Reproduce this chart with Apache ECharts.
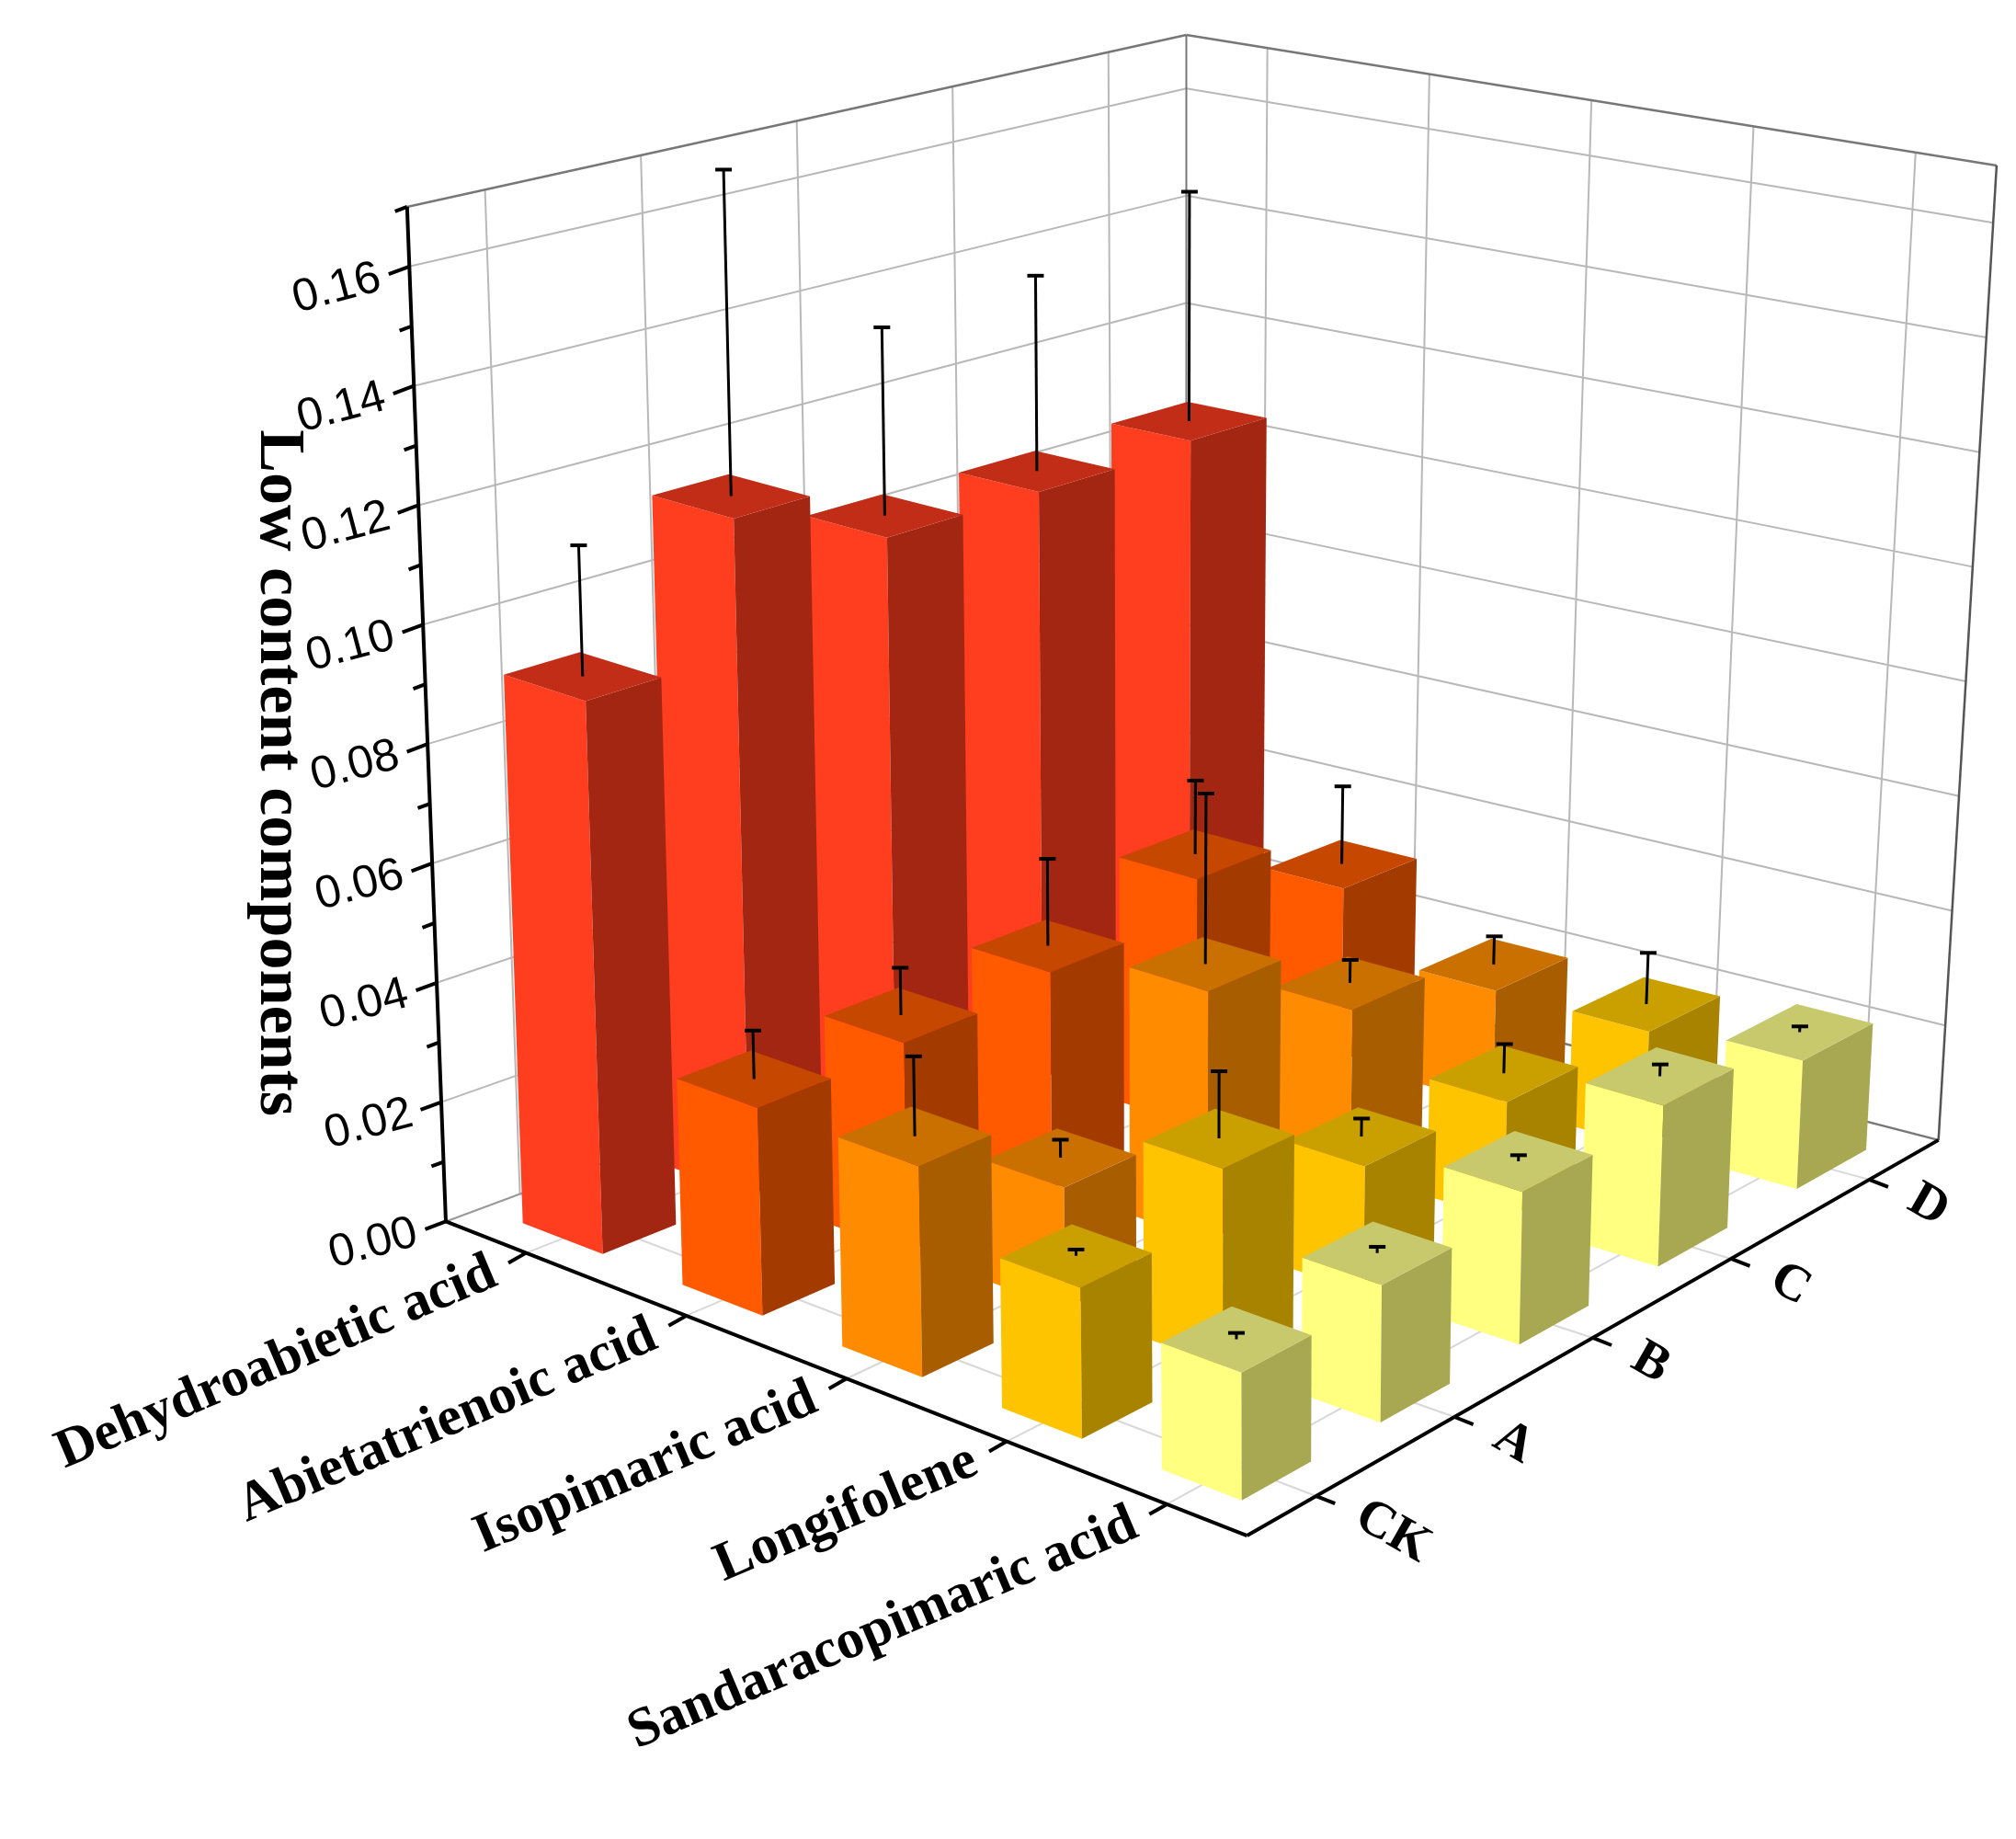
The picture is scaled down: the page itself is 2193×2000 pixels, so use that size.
<!DOCTYPE html>
<html lang="en">
<head>
<meta charset="UTF-8" />
<title>Low content components</title>
<style>
  html, body { margin: 0; padding: 0; background: #fff; }
  #app { width: 2193px; height: 2000px; }
</style>
</head>
<body>
<div id="app"></div>
<script src="https://cdn.jsdelivr.net/npm/echarts@6/dist/echarts.min.js"></script>
<script>
  var categories = ['Dehydroabietic acid', 'Abietatrienoic acid', 'Isopimaric acid', 'Longifolene', 'Sandaracopimaric acid']
  var treatments = ['CK', 'A', 'B', 'C', 'D']
  // one row per category, one value per treatment
  var dehydroabietic = [0.092, 0.115, 0.104, 0.104, 0.105]
  var abietatrienoic = [0.034, 0.035, 0.037, 0.043, 0.031]
  var isopimaric = [0.034, 0.020, 0.042, 0.028, 0.020]
  var longifolene = [0.024, 0.032, 0.021, 0.020, 0.020]
  var sandaracopimaric = [0.020, 0.022, 0.025, 0.027, 0.022]
  var dehydroabieticErr = [0.022, 0.056, 0.033, 0.035, 0.042]
  var abietatrienoicErr = [0.008, 0.008, 0.015, 0.013, 0.014]
  var isopimaricErr = [0.013, 0.003, 0.029, 0.004, 0.005]
  var longifoleneErr = [0.001, 0.011, 0.003, 0.005, 0.009]
  var sandaracopimaricErr = [0.001, 0.001, 0.001, 0.002, 0.001]
  var yTicks = [0, 0.02, 0.04, 0.06, 0.08, 0.1, 0.12, 0.14, 0.16]
  var yMax = 0.17

  var rows = [dehydroabietic, abietatrienoic, isopimaric, longifolene, sandaracopimaric]
  var errs = [dehydroabieticErr, abietatrienoicErr, isopimaricErr, longifoleneErr, sandaracopimaricErr]
  // face colours per row: [front, side, top]
  var colors = [
    ['#ff3d1f', '#a32613', '#c22d17'],
    ['#ff5a00', '#a33a00', '#c54700'],
    ['#ff8c00', '#a85e00', '#c97000'],
    ['#ffc400', '#a88300', '#c9a000'],
    ['#ffff80', '#a8a852', '#c8c86c']
  ]

  // projection frame (screen px): floor corners and top corners
  var s = 2193 / 1560
  function p(x, y) { return [x * s, y * s] }
  var F = p(965, 1188), L = p(345, 945), R = p(1500, 882), B = p(918, 732)
  var Ft = p(962, 340), Lt = p(315, 160), Rt = p(1545, 128), Bt = p(918, 27)

  function bil(a, b, c, d, u, v, k) {
    // a=F b=L c=R d=B
    return a[k] * (1 - u) * (1 - v) + b[k] * u * (1 - v) + c[k] * (1 - u) * v + d[k] * u * v
  }
  // u: 0 at front corner -> 1 at left end (category axis); v: 0 front -> 1 right end (treatment axis)
  function proj(u, v, val) {
    var t = val / yMax
    var x0 = bil(F, L, R, B, u, v, 0), y0 = bil(F, L, R, B, u, v, 1)
    var x1 = bil(Ft, Lt, Rt, Bt, u, v, 0), y1 = bil(Ft, Lt, Rt, Bt, u, v, 1)
    return [x0 + (x1 - x0) * t, y0 + (y1 - y0) * t]
  }
  function uOf(i) { return (4.5 - i) / 5 }
  function vOf(j) { return (j + 0.5) / 5 }

  var barData = []
  rows.forEach(function (row, i) {
    row.forEach(function (val, j) {
      barData.push([i, j, val, errs[i][j]])
    })
  })
  barData.sort(function (a, b) {
    return (uOf(b[0]) + vOf(b[1])) - (uOf(a[0]) + vOf(a[1]))
  })

  var half = 0.05
  function renderBar(params, api) {
    var i = api.value(0), j = api.value(1), val = api.value(2), err = api.value(3)
    var uc = uOf(i), vc = vOf(j)
    var u0 = uc - half, u1 = uc + half, v0 = vc - half, v1 = vc + half
    var c = colors[i]
    var left = [proj(u0, v0, 0), proj(u1, v0, 0), proj(u1, v0, val), proj(u0, v0, val)]
    var right = [proj(u0, v0, 0), proj(u0, v1, 0), proj(u0, v1, val), proj(u0, v0, val)]
    var top = [proj(u0, v0, val), proj(u1, v0, val), proj(u1, v1, val), proj(u0, v1, val)]
    var a = proj(uc, vc, val), b = proj(uc, vc, val + err)
    return {
      type: 'group',
      children: [
        { type: 'polygon', shape: { points: left }, style: { fill: c[0] } },
        { type: 'polygon', shape: { points: right }, style: { fill: c[1] } },
        { type: 'polygon', shape: { points: top }, style: { fill: c[2] } },
        { type: 'line', shape: { x1: a[0], y1: a[1], x2: b[0], y2: b[1] }, style: { stroke: '#000', lineWidth: 3 } },
        { type: 'line', shape: { x1: b[0] - 9, y1: b[1], x2: b[0] + 9, y2: b[1] }, style: { stroke: '#000', lineWidth: 4 } }
      ]
    }
  }

  function line(a, b, color, w) {
    return { type: 'line', shape: { x1: a[0], y1: a[1], x2: b[0], y2: b[1] }, style: { stroke: color, lineWidth: w } }
  }

  function renderFrame() {
    var ch = []
    var grid = '#b8b8b8'
    // floor grid lines at cell centres
    for (var k = 0; k < 5; k++) {
      ch.push(line(proj(uOf(k), 0, 0), proj(uOf(k), 1, 0), '#d8d8d8', 2))
      ch.push(line(proj(0, vOf(k), 0), proj(1, vOf(k), 0), '#d8d8d8', 2))
    }
    // walls: vertical lines at cell centres
    for (var k2 = 0; k2 < 5; k2++) {
      ch.push(line(proj(1, vOf(k2), 0), proj(1, vOf(k2), yMax), grid, 2))
      ch.push(line(proj(uOf(k2), 1, 0), proj(uOf(k2), 1, yMax), grid, 2))
    }
    // walls: horizontal lines at ticks
    yTicks.forEach(function (t) {
      if (t === 0) return
      ch.push(line(proj(1, 0, t), proj(1, 1, t), grid, 2))
      ch.push(line(proj(1, 1, t), proj(0, 1, t), grid, 2))
    })
    // box edges
    ch.push(line(proj(1, 0, yMax), proj(1, 1, yMax), '#777', 2.5))
    ch.push(line(proj(1, 1, yMax), proj(0, 1, yMax), '#777', 2.5))
    ch.push(line(proj(1, 1, 0), proj(1, 1, yMax), '#777', 2))
    ch.push(line(proj(0, 1, 0), proj(0, 1, yMax), '#555', 2.5))
    ch.push(line(proj(1, 1, 0), proj(0, 1, 0), '#777', 2.5))
    ch.push(line(proj(1, 0, 0), proj(1, 1, 0), '#999', 2))
    return { type: 'group', children: ch }
  }

  function renderAxes() {
    var ch = []
    // vertical value axis at left end
    ch.push(line(proj(1, 0, 0), proj(1, 0, yMax), '#000', 4))
    var dL = [L[0] - B[0], L[1] - B[1]], nL = Math.hypot(dL[0], dL[1])
    dL = [dL[0] / nL, dL[1] / nL]
    for (var m = 0; m <= 17; m++) {
      var t = m * 0.01
      var a = proj(1, 0, t), len = m % 2 === 0 ? 24 : 14
      ch.push(line(a, [a[0] + dL[0] * len, a[1] + dL[1] * len], '#000', 4))
    }
    yTicks.forEach(function (t) {
      var a = proj(1, 0, t)
      ch.push({
        type: 'text', x: a[0] + dL[0] * 34, y: a[1] + dL[1] * 34, rotation: 0.26,
        style: { text: t.toFixed(2), fontSize: 50, fontFamily: 'Liberation Sans', fill: '#000', align: 'right', verticalAlign: 'middle' }
      })
    })
    // category axis along front-left edge
    ch.push(line(proj(0, 0, 0), proj(1, 0, 0), '#000', 4))
    var dC = [F[0] - R[0], F[1] - R[1]], nC = Math.hypot(dC[0], dC[1])
    dC = [dC[0] / nC, dC[1] / nC]
    categories.forEach(function (name, i) {
      var a = proj(uOf(i), 0, 0)
      ch.push(line(a, [a[0] + dC[0] * 22, a[1] + dC[1] * 22], '#000', 4))
      ch.push({
        type: 'text', x: a[0] + dC[0] * 40, y: a[1] + dC[1] * 40, rotation: 0.40,
        style: { text: name, fontSize: 60, fontWeight: 'bold', fontFamily: 'Liberation Serif', fill: '#000', align: 'right', verticalAlign: 'middle' }
      })
    })
    // treatment axis along front-right edge
    ch.push(line(proj(0, 0, 0), proj(0, 1, 0), '#000', 4))
    var dT = [F[0] - L[0], F[1] - L[1]], nT = Math.hypot(dT[0], dT[1])
    dT = [dT[0] / nT, dT[1] / nT]
    treatments.forEach(function (name, j) {
      var a = proj(0, vOf(j), 0)
      ch.push(line(a, [a[0] + dT[0] * 22, a[1] + dT[1] * 22], '#000', 4))
      ch.push({
        type: 'text', x: a[0] + dT[0] * 50, y: a[1] + dT[1] * 50, rotation: -0.52,
        style: { text: name, fontSize: 56, fontWeight: 'bold', fontFamily: 'Liberation Serif', fill: '#000', align: 'left', verticalAlign: 'middle' }
      })
    })
    // axis title
    ch.push({
      type: 'text', x: 215 * s, y: 598 * s, rotation: -Math.PI / 2,
      style: { text: 'Low content components', fontSize: 70, fontWeight: 'bold', fontFamily: 'Liberation Serif', fill: '#000', align: 'center', verticalAlign: 'middle' }
    })
    return { type: 'group', children: ch }
  }

  var chart = echarts.init(document.getElementById('app'))
  chart.setOption({
    backgroundColor: '#fff',
    animation: false,
    series: [
      { type: 'custom', coordinateSystem: 'none', z: 1, data: [[0]], renderItem: renderFrame, silent: true },
      { type: 'custom', coordinateSystem: 'none', z: 2, data: barData, renderItem: renderBar, silent: true },
      { type: 'custom', coordinateSystem: 'none', z: 3, data: [[0]], renderItem: renderAxes, silent: true }
    ]
  })
</script>
</body>
</html>
